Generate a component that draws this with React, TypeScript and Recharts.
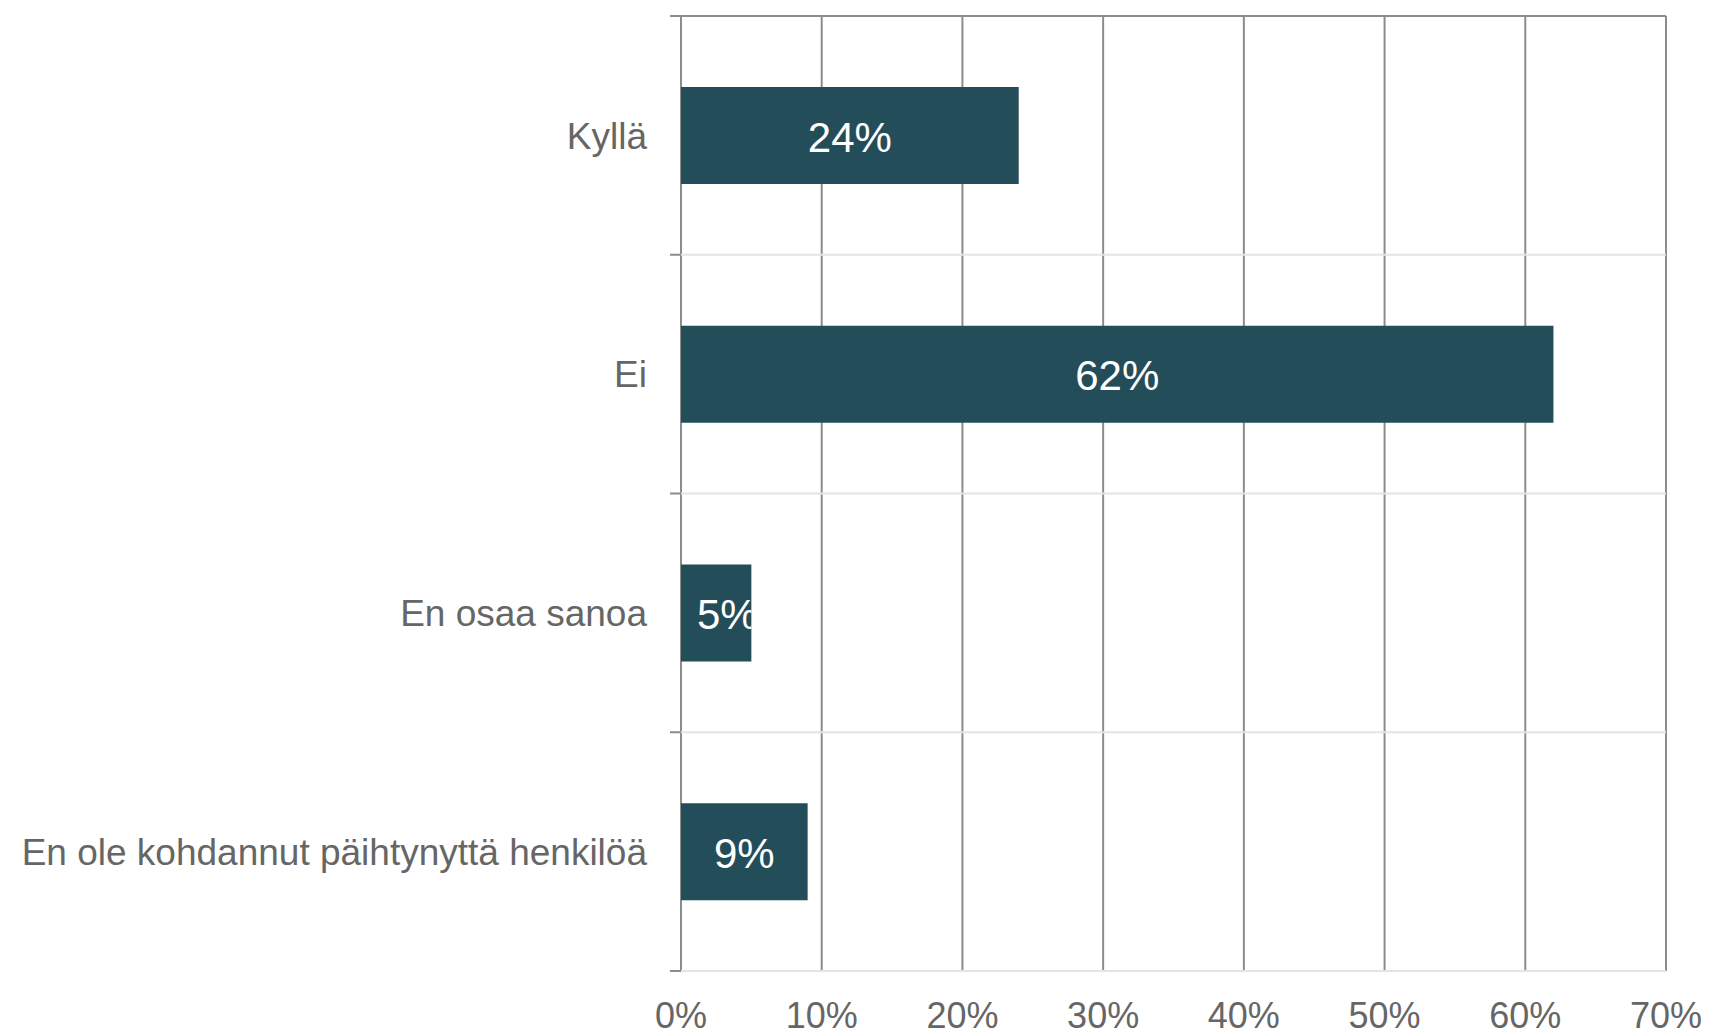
import { BarChart, Bar, XAxis, YAxis, CartesianGrid, ReferenceLine, LabelList } from "recharts";

const categories = ["Kyllä", "Ei", "En osaa sanoa", "En ole kohdannut päihtynyttä henkilöä"];
const shares = [0.24, 0.62, 0.05, 0.09];
const xTicks = [0, 0.1, 0.2, 0.3, 0.4, 0.5, 0.6, 0.7];

const data = categories.map((name, i) => ({ name, value: shares[i] }));

const FONT = "'Liberation Sans', Arial, sans-serif";
const DARK = "#8c8c8c";
const LIGHT = "#e4e4e4";
const BAR = "#244d5a";
const TEXT = "#666666";
const TICK_OUT = -0.0078; // ~11px left of the axis

const pct = (v: number) => `${Math.round(v * 100)}%`;

// band edges: top of every category, plus the bottom of the last one
const edges = [
  ...categories.map((c) => ({ cat: c, pos: "start" as const })),
  { cat: categories[categories.length - 1], pos: "end" as const },
];

const BarLabel = (props: any) => {
  const { x, y, width, height, value, index } = props;
  const text = pct(Number(value));
  const textW = text.length * 42 * 0.48;
  const fits = width > textW + 32;
  const id = `clip-bar-${index}`;
  return (
    <g>
      <defs>
        <clipPath id={id}>
          <rect x={x} y={y} width={width} height={height} />
        </clipPath>
      </defs>
      <text
        x={fits ? x + width / 2 : x + 16}
        y={y + height / 2 + 16}
        textAnchor={fits ? "middle" : "start"}
        fill="#ffffff"
        fontSize={42}
        fontFamily={FONT}
        clipPath={`url(#${id})`}
      >
        {text}
      </text>
    </g>
  );
};

export default function App() {
  return (
    <div style={{ position: "absolute", left: 0, top: 0, background: "#fff" }}>
      <BarChart
        width={1711}
        height={1035}
        data={data}
        layout="vertical"
        margin={{ top: 16, right: 45, left: 0, bottom: 0 }}
      >
        <CartesianGrid horizontal={false} vertical stroke={DARK} strokeWidth={2} />
        <XAxis
          type="number"
          dataKey="value"
          domain={[0, 0.7]}
          allowDataOverflow
          ticks={xTicks}
          tickFormatter={pct}
          axisLine={false}
          tickLine={false}
          tickSize={0}
          tickMargin={31}
          height={64}
          interval={0}
          tick={{ fill: TEXT, fontSize: 36, fontFamily: FONT }}
        />
        <XAxis
          xAxisId="top"
          orientation="top"
          type="number"
          domain={[0, 0.7]}
          allowDataOverflow
          ticks={xTicks}
          height={0}
          axisLine={false}
          tick={false}
          tickSize={11}
          tickLine={{ stroke: DARK, strokeWidth: 2 }}
          interval={0}
        />
        <YAxis
          type="category"
          dataKey="name"
          width={681}
          axisLine={false}
          tickLine={false}
          tickSize={0}
          tickMargin={34}
          interval={0}
          tick={{ fill: TEXT, fontSize: 37, fontFamily: FONT }}
        />
        {edges.map((e, i) => (
          <ReferenceLine
            key={`h-${i}`}
            position={e.pos}
            ifOverflow="visible"
            segment={[{ x: i === 0 ? TICK_OUT : 0, y: e.cat }, { x: 0.7, y: e.cat }]}
            stroke={i === 0 ? DARK : LIGHT}
            strokeWidth={2}
          />
        ))}
        {edges.map((e, i) => (
          <ReferenceLine
            key={`t-${i}`}
            position={e.pos}
            ifOverflow="visible"
            segment={[{ x: TICK_OUT, y: e.cat }, { x: 0, y: e.cat }]}
            stroke={DARK}
            strokeWidth={2}
          />
        ))}
        <Bar dataKey="value" fill={BAR} barSize={97} isAnimationActive={false}>
          <LabelList dataKey="value" content={<BarLabel />} />
        </Bar>
      </BarChart>
    </div>
  );
}
